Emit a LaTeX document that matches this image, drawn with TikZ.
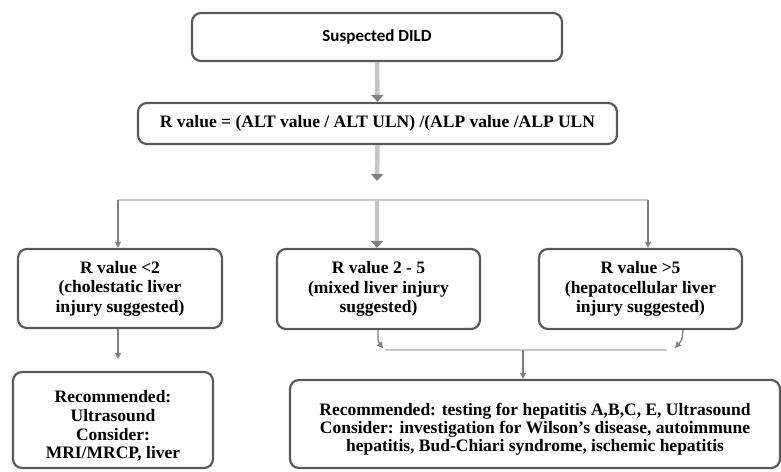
\documentclass[tikz,border=0pt]{standalone}
\usepackage{fontspec}
\setmainfont{Liberation Serif}
\newfontfamily\calfont{Carlito}
\usetikzlibrary{arrows.meta}
\definecolor{boxline}{HTML}{595959}
\definecolor{arrowgray}{HTML}{808080}
\definecolor{shaftgray}{HTML}{C4C4C4}
\definecolor{linegray}{HTML}{C8C8C8}
\tikzset{
  box/.style={draw=boxline, line width=2.2pt, rounded corners=9pt, fill=white, align=center, inner sep=0pt,
    font=\fontsize{17.5}{19.5}\selectfont\bfseries},
  thickarrow/.style={draw=shaftgray, line width=4.5pt, -{Triangle[width=12pt,length=7pt,color=arrowgray]}},
  thinarrow/.style={draw=arrowgray, line width=1.3pt, -{Triangle[width=6pt,length=6pt]}},
  thinline/.style={draw=linegray, line width=1.3pt},
}
\begin{document}
\begin{tikzpicture}[x=1pt,y=-1pt]
\useasboundingbox (0,0) rectangle (781,471);
\node[box, minimum width=370pt, minimum height=48pt, font=\calfont\fontsize{17}{19}\selectfont\bfseries] (top) at (377,37) {Suspected DILD};
\node[box, minimum width=479pt, minimum height=41pt] (rform) at (377.5,123.5) {R value = (ALT value / ALT ULN) /(ALP value /ALP ULN};
\node[box, minimum width=204pt, minimum height=79pt] (rlow) at (120,288.5) {R value {<}2\\(cholestatic liver\\injury suggested)};
\node[box, minimum width=203pt, minimum height=80pt] (rmid) at (378.5,289) {R value 2 - 5\\(mixed liver injury\\suggested)};
\node[box, minimum width=203pt, minimum height=80pt] (rhigh) at (640.5,289) {R value {>}5\\(hepatocellular liver\\injury suggested)};
\node[box, minimum width=200pt, minimum height=96pt, font=\fontsize{17.5}{18.7}\selectfont\bfseries] (recL) at (113,420) {\raisebox{-11.5pt}[0pt][0pt]{\begin{tabular}{@{}c@{}}Recommended:\\Ultrasound\\Consider:\\MRI/MRCP, liver\end{tabular}}};
\node[box, minimum width=490pt, minimum height=88pt, font=\fontsize{17.5}{18}\selectfont\bfseries] (recR) at (535,424) {\raisebox{-10.5pt}[0pt][0pt]{\begin{tabular}{@{}c@{}}Recommended: testing for hepatitis A,B,C, E, Ultrasound\\Consider: investigation for Wilson's disease, autoimmune\\hepatitis, Bud-Chiari syndrome, ischemic hepatitis\end{tabular}}};
\coordinate (b1) at (377,181);
\coordinate (jL) at (118,200);
\coordinate (jM) at (377,200);
\coordinate (jR) at (648,200);
\coordinate (a1) at (118,359);
\coordinate (mEnd) at (383,348);
\coordinate (hEnd) at (675,348);
\coordinate (hL) at (385,350);
\coordinate (hR) at (667,350);
\coordinate (jB) at (523,350);
\draw[thickarrow] (top.south) -- (rform.north);
\draw[thickarrow] (rform.south) -- (b1);
\draw[thinline] (jL) -- (jR);
\draw[thinarrow] (jL) -- (jL |- rlow.north);
\draw[thickarrow] (jM) -- (jM |- rmid.north);
\draw[thinarrow] (jR) -- (jR |- rhigh.north);
\draw[thinarrow] (rlow.south -| jL) -- (a1);
\draw[thinline] (hL) -- (hR);
\draw[thinarrow] (rmid.south -| 378,0) .. controls (378,342) .. (mEnd);
\draw[thinarrow] (rhigh.south -| 683,0) .. controls (682,340) .. (hEnd);
\draw[thinarrow] (jB) -- (jB |- recR.north);
\end{tikzpicture}
\end{document}
